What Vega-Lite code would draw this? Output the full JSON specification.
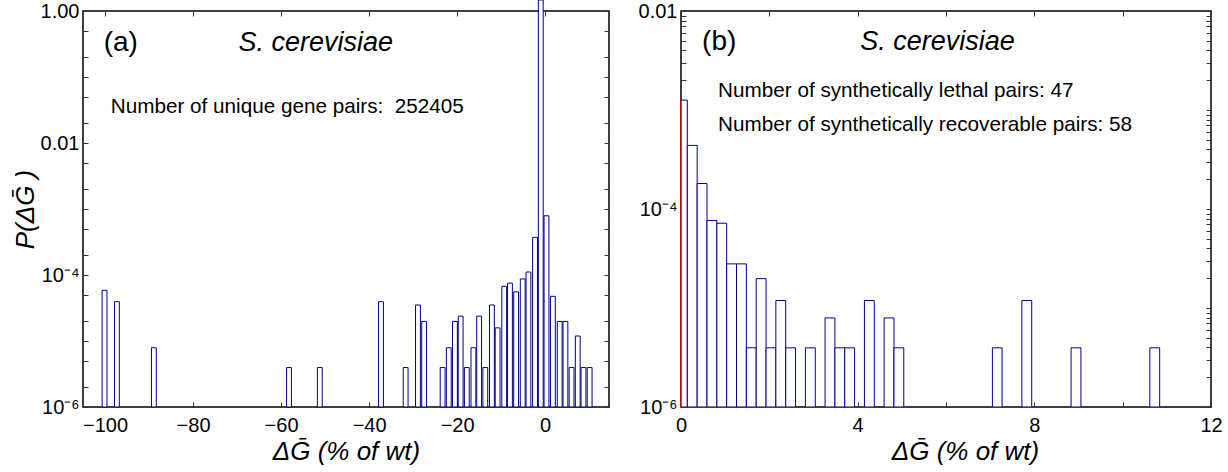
{
  "$schema": "https://vega.github.io/schema/vega-lite/v6.json",
  "autosize": {"type": "pad"},
  "padding": {"left": 11, "top": -4, "right": 0, "bottom": 0},
  "background": "white",
  "datasets": {
    "a": [
      {"lo": -100.65, "hi": -99.55, "p": 5.86e-5},
      {"lo": -97.85, "hi": -96.75, "p": 3.94e-5},
      {"lo": -89.45, "hi": -88.35, "p": 7.9e-6},
      {"lo": -58.75, "hi": -57.65, "p": 3.96e-6},
      {"lo": -51.75, "hi": -50.65, "p": 3.96e-6},
      {"lo": -37.85, "hi": -36.75, "p": 3.94e-5},
      {"lo": -32.25, "hi": -31.15, "p": 3.96e-6},
      {"lo": -29.45, "hi": -28.35, "p": 3.51e-5},
      {"lo": -28.05, "hi": -26.95, "p": 1.98e-5},
      {"lo": -23.85, "hi": -22.75, "p": 3.96e-6},
      {"lo": -22.45, "hi": -21.35, "p": 7.9e-6},
      {"lo": -21.05, "hi": -19.95, "p": 1.98e-5},
      {"lo": -19.75, "hi": -18.65, "p": 2.38e-5},
      {"lo": -18.35, "hi": -17.25, "p": 3.96e-6},
      {"lo": -16.85, "hi": -15.75, "p": 7.9e-6},
      {"lo": -15.55, "hi": -14.45, "p": 2.38e-5},
      {"lo": -14.15, "hi": -13.05, "p": 3.96e-6},
      {"lo": -12.65, "hi": -11.55, "p": 3.51e-5},
      {"lo": -11.35, "hi": -10.25, "p": 1.58e-5},
      {"lo": -9.85, "hi": -8.75, "p": 6.74e-5},
      {"lo": -8.55, "hi": -7.45, "p": 7.53e-5},
      {"lo": -7.15, "hi": -6.05, "p": 5.55e-5},
      {"lo": -5.65, "hi": -4.55, "p": 8.7e-5},
      {"lo": -4.35, "hi": -3.25, "p": 1.11e-4},
      {"lo": -2.85, "hi": -1.75, "p": 3.72e-4},
      {"lo": -1.55, "hi": -0.45, "p": 1.47},
      {"lo": -0.25, "hi": 0.85, "p": 7.9e-4},
      {"lo": 1.2, "hi": 2.3, "p": 4.75e-5},
      {"lo": 2.75, "hi": 3.85, "p": 1.98e-5},
      {"lo": 4.05, "hi": 5.15, "p": 1.98e-5},
      {"lo": 5.45, "hi": 6.55, "p": 3.96e-6},
      {"lo": 6.85, "hi": 7.95, "p": 1.19e-5},
      {"lo": 8.15, "hi": 9.25, "p": 3.96e-6},
      {"lo": 9.55, "hi": 10.65, "p": 3.96e-6}
    ],
    "b": [
      {"lo": -0.08, "hi": 0.143, "p": 1.26e-3},
      {"lo": 0.143, "hi": 0.366, "p": 4.39e-4},
      {"lo": 0.366, "hi": 0.589, "p": 1.81e-4},
      {"lo": 0.589, "hi": 0.812, "p": 7.65e-5},
      {"lo": 0.812, "hi": 1.034, "p": 7.18e-5},
      {"lo": 1.034, "hi": 1.257, "p": 2.79e-5},
      {"lo": 1.257, "hi": 1.48, "p": 2.79e-5},
      {"lo": 1.48, "hi": 1.703, "p": 3.96e-6},
      {"lo": 1.703, "hi": 1.926, "p": 1.98e-5},
      {"lo": 1.926, "hi": 2.148, "p": 3.96e-6},
      {"lo": 2.148, "hi": 2.371, "p": 1.19e-5},
      {"lo": 2.371, "hi": 2.594, "p": 3.96e-6},
      {"lo": 2.817, "hi": 3.04, "p": 3.96e-6},
      {"lo": 3.262, "hi": 3.485, "p": 7.94e-6},
      {"lo": 3.485, "hi": 3.708, "p": 3.96e-6},
      {"lo": 3.708, "hi": 3.93, "p": 3.96e-6},
      {"lo": 4.153, "hi": 4.376, "p": 1.19e-5},
      {"lo": 4.599, "hi": 4.822, "p": 7.94e-6},
      {"lo": 4.822, "hi": 5.044, "p": 3.96e-6},
      {"lo": 7.05, "hi": 7.27, "p": 3.96e-6},
      {"lo": 7.718, "hi": 7.941, "p": 1.19e-5},
      {"lo": 8.832, "hi": 9.055, "p": 3.96e-6},
      {"lo": 10.615, "hi": 10.838, "p": 3.96e-6}
    ]
  },
  "hconcat": [
    {
      "width": 526,
      "height": 396,
      "layer": [
        {
          "data": {"name": "a"},
          "mark": {"type": "rect", "fill": "white", "stroke": "#00008b", "strokeWidth": 1, "clip": false},
          "encoding": {
            "x": {"field": "lo", "type": "quantitative",
                  "scale": {"domain": [-105, 14.5], "nice": false, "zero": false},
                  "axis": {"orient": "bottom", "values": [-100, -80, -60, -40, -20, 0], "labelPadding": 8, "title": "ΔḠ (% of wt)", "titlePadding": 3}},
            "x2": {"field": "hi"},
            "y": {"field": "p", "type": "quantitative",
                  "scale": {"type": "log", "domain": [1e-6, 1], "nice": false, "zero": false},
                  "axis": {"orient": "left", "values": [1, 0.5, 0.2, 0.1, 0.05, 0.02, 0.01, 0.005, 0.002, 0.001, 0.0005, 0.0002, 0.0001, 0.00005, 0.00002, 0.00001, 0.000005, 0.000002, 0.000001],
                           "labelExpr": "datum.value == 1 ? '1.00' : datum.value == 0.01 ? '0.01' : datum.value == 0.0001 ? '10⁻⁴' : datum.value == 0.000001 ? '10⁻⁶' : ''",
                           "labelPadding": 4, "title": "P(ΔḠ )", "titlePadding": 2}},
            "y2": {"datum": 1e-6}
          }
        },
        {
          "data": {"name": "a"},
          "mark": {"type": "point", "opacity": 0},
          "encoding": {
            "x": {"field": "lo", "type": "quantitative",
                  "axis": {"orient": "top", "values": [-100, -80, -60, -40, -20, 0], "labels": false, "title": null}},
            "y": {"field": "p", "type": "quantitative",
                  "axis": {"orient": "right", "values": [1, 0.5, 0.2, 0.1, 0.05, 0.02, 0.01, 0.005, 0.002, 0.001, 0.0005, 0.0002, 0.0001, 0.00005, 0.00002, 0.00001, 0.000005, 0.000002, 0.000001], "labels": false, "title": null}}
          }
        },
        {
          "data": {"values": [{}]},
          "mark": {"type": "text", "text": "(a)", "align": "left", "baseline": "middle", "fontSize": 28},
          "encoding": {"x": {"datum": -100.3, "axis": null}, "y": {"datum": 0.327, "axis": null}}
        },
        {
          "data": {"values": [{}]},
          "mark": {"type": "text", "text": "S. cerevisiae", "align": "center", "baseline": "middle", "fontSize": 27, "fontStyle": "italic"},
          "encoding": {"x": {"datum": -52.1, "axis": null}, "y": {"datum": 0.327, "axis": null}}
        },
        {
          "data": {"values": [{}]},
          "mark": {"type": "text", "text": "Number of unique gene pairs: \u00a0252405", "align": "left", "baseline": "middle", "fontSize": 20.7},
          "encoding": {"x": {"datum": -98.7, "axis": null}, "y": {"datum": 0.0347, "axis": null}}
        }
      ],
      "resolve": {"axis": {"x": "independent", "y": "independent"}}
    },
    {
      "width": 530,
      "height": 396,
      "layer": [
        {
          "data": {"name": "b"},
          "mark": {"type": "rect", "fill": "white", "stroke": "#00008b", "strokeWidth": 1, "clip": true},
          "encoding": {
            "x": {"field": "lo", "type": "quantitative",
                  "scale": {"domain": [0, 12], "nice": false, "zero": false},
                  "axis": {"orient": "bottom", "values": [0, 2, 4, 6, 8, 10, 12], "labelExpr": "datum.value % 4 == 0 ? datum.label : ''", "labelPadding": 8, "title": "ΔḠ (% of wt)", "titlePadding": 3, "titleX": 284}},
            "x2": {"field": "hi"},
            "y": {"field": "p", "type": "quantitative",
                  "scale": {"type": "log", "domain": [1e-6, 0.01], "nice": false, "zero": false},
                  "axis": {"orient": "left", "values": [0.01, 0.009, 0.008, 0.007, 0.006, 0.005, 0.004, 0.003, 0.002, 0.001, 0.0009, 0.0008, 0.0007, 0.0006, 0.0005, 0.0004, 0.0003, 0.0002, 0.0001, 0.00009, 0.00008, 0.00007, 0.00006, 0.00005, 0.00004, 0.00003, 0.00002, 0.00001, 0.000009, 0.000008, 0.000007, 0.000006, 0.000005, 0.000004, 0.000003, 0.000002, 0.000001],
                           "labelExpr": "datum.value == 0.01 ? '0.01' : datum.value == 0.0001 ? '10⁻⁴' : datum.value == 0.000001 ? '10⁻⁶' : ''",
                           "labelPadding": 4, "title": null}},
            "y2": {"datum": 1e-6}
          }
        },
        {
          "data": {"name": "b"},
          "mark": {"type": "point", "opacity": 0},
          "encoding": {
            "x": {"field": "lo", "type": "quantitative",
                  "axis": {"orient": "top", "values": [0, 2, 4, 6, 8, 10, 12], "labels": false, "title": null}},
            "y": {"field": "p", "type": "quantitative",
                  "axis": {"orient": "right", "values": [0.01, 0.009, 0.008, 0.007, 0.006, 0.005, 0.004, 0.003, 0.002, 0.001, 0.0009, 0.0008, 0.0007, 0.0006, 0.0005, 0.0004, 0.0003, 0.0002, 0.0001, 0.00009, 0.00008, 0.00007, 0.00006, 0.00005, 0.00004, 0.00003, 0.00002, 0.00001, 0.000009, 0.000008, 0.000007, 0.000006, 0.000005, 0.000004, 0.000003, 0.000002, 0.000001], "labels": false, "title": null}}
          }
        },
        {
          "data": {"values": [{}]},
          "mark": {"type": "rule", "color": "#cc0000", "strokeWidth": 1.5},
          "encoding": {"x": {"datum": 0, "axis": null}, "y": {"datum": 1e-6, "axis": null}, "y2": {"datum": 1.26e-3}}
        },
        {
          "data": {"values": [{}]},
          "mark": {"type": "text", "text": "(b)", "align": "left", "baseline": "middle", "fontSize": 28},
          "encoding": {"x": {"datum": 0.477, "axis": null}, "y": {"datum": 0.00483, "axis": null}}
        },
        {
          "data": {"values": [{}]},
          "mark": {"type": "text", "text": "S. cerevisiae", "align": "center", "baseline": "middle", "fontSize": 27, "fontStyle": "italic"},
          "encoding": {"x": {"datum": 5.807, "axis": null}, "y": {"datum": 0.00483, "axis": null}}
        },
        {
          "data": {"values": [{}]},
          "mark": {"type": "text", "text": "Number of synthetically lethal pairs: 47", "align": "left", "baseline": "middle", "fontSize": 20.7},
          "encoding": {"x": {"datum": 0.84, "axis": null}, "y": {"datum": 0.00155, "axis": null}}
        },
        {
          "data": {"values": [{}]},
          "mark": {"type": "text", "text": "Number of synthetically recoverable pairs: 58", "align": "left", "baseline": "middle", "fontSize": 20.7},
          "encoding": {"x": {"datum": 0.84, "axis": null}, "y": {"datum": 0.000698, "axis": null}}
        }
      ],
      "resolve": {"axis": {"x": "independent", "y": "independent"}}
    }
  ],
  "spacing": 72,
  "bounds": "flush",
  "config": {
    "font": "Liberation Sans",
    "view": {"stroke": "black", "strokeWidth": 1.5},
    "axis": {
      "domain": false,
      "grid": false,
      "ticks": true,
      "tickColor": "#333333",
      "tickSize": 5,
      "offset": -5,
      "tickWidth": 1,
      "zindex": 1,
      "labelFontSize": 20,
      "labelColor": "black",
      "labelFont": "Liberation Sans",
      "labelFlush": false,
      "labelOverlap": false,
      "titleFont": "Liberation Sans",
      "titleFontSize": 26,
      "titleColor": "black",
      "titleFontWeight": "normal",
      "titleFontStyle": "italic"
    },
    "text": {"font": "Liberation Sans", "color": "black"}
  }
}
